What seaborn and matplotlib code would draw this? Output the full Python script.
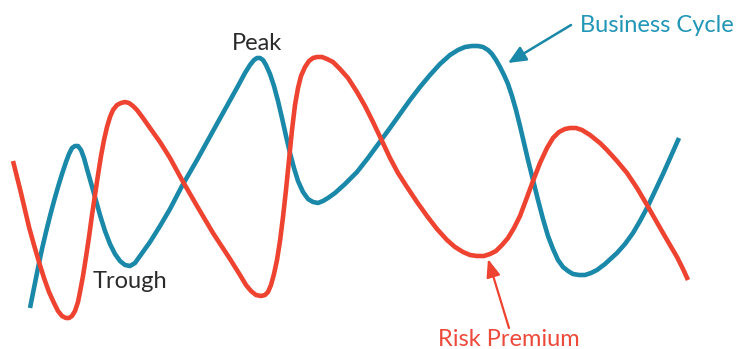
import matplotlib
matplotlib.use("Agg")
import matplotlib.pyplot as plt
import seaborn as sns
import pandas as pd

# Positions along the time axis and curve heights (screen-style, larger = lower)
cycle_x = [30, 34, 38, 42, 46, 50, 54, 58, 62, 66, 69, 72, 75, 78, 81, 84, 87, 91, 95, 100, 105, 110,
           115, 120, 125, 130, 135, 140, 150, 160, 170, 182, 197, 213, 228, 238, 245, 250, 254, 257,
           260, 263, 266, 270, 274, 278, 282, 286, 290, 294, 298, 303, 308, 313, 318, 323, 328, 335,
           345, 357, 368, 379, 390, 400, 410, 420, 430, 440, 450, 458, 465, 472, 478, 483, 488, 492,
           496, 500, 504, 508, 512, 516, 520, 524, 528, 533, 538, 543, 548, 553, 558, 563, 568, 573,
           579, 585, 591, 597, 605, 617, 625, 633, 640, 647, 655, 663, 671, 679]
cycle_y = [308, 288, 268, 249, 232, 216, 201, 187, 174, 162, 154, 148, 146, 146, 150, 158, 169, 183, 197, 215, 231, 244,
           254, 261, 265, 266, 263, 256, 242, 226, 209, 186, 160, 131, 104, 86, 73, 65, 60, 58,
           58, 60, 65, 74, 86, 101, 118, 136, 153, 168, 181, 192, 199, 202, 203, 201, 198, 193,
           184, 172, 158, 143, 128, 114, 100, 87, 75, 64, 55, 50, 47, 46, 46, 47, 50, 54,
           60, 67, 75, 84, 96, 110, 126, 143, 160, 180, 200, 219, 236, 249, 260, 267, 271, 274,
           275, 275, 273, 270, 264, 253, 244, 233, 221, 208, 191, 174, 156, 138]

risk_x = [13, 17, 21, 25, 29, 34, 39, 44, 49, 54, 58, 62, 66, 69, 72, 75, 78, 80, 83, 86, 89, 92, 95, 98,
          101, 104, 107, 110, 113, 117, 121, 125, 129, 133, 137, 143, 150, 160, 170, 182, 197, 213, 230,
          240, 246, 251, 256, 261, 265, 268, 271, 274, 277, 280, 283, 286, 289, 292, 295, 298, 301, 305,
          309, 313, 317, 322, 327, 333, 340, 348, 357, 365, 373, 382, 390, 398, 407, 417, 427, 437, 447,
          455, 463, 470, 477, 484, 490, 496, 502, 508, 514, 520, 526, 533, 540, 547, 553, 559, 565, 570,
          576, 582, 590, 600, 607, 617, 627, 637, 647, 655, 663, 670, 677, 683, 688]
risk_y = [161, 177, 193, 210, 227, 245, 262, 278, 292, 303, 311, 316, 318, 318, 316, 311, 302, 292, 276, 257, 237, 215, 195, 175,
          156, 140, 127, 117, 110, 105, 103, 102, 103, 106, 110, 118, 128, 142, 158, 180, 206, 233, 259,
          275, 285, 291, 295, 296, 295, 292, 285, 274, 260, 241, 217, 190, 160, 130, 105, 88, 76, 67,
          61, 58, 57, 57, 59, 62, 69, 78, 92, 106, 122, 141, 158, 173, 187, 202, 216, 229, 240,
          247, 252, 255, 256, 256, 254, 251, 245, 238, 228, 216, 200, 181, 163, 148, 138, 132, 129, 128,
          128, 130, 135, 143, 150, 161, 173, 188, 205, 219, 233, 245, 257, 269, 280]

labels = ["Business Cycle", "Risk Premium", "Peak", "Trough"]

BLUE = "#1a88a8"
BLUE_TXT = "#2196b6"
RED = "#ee4330"
RED_TXT = "#ee4a3a"
DARK = "#2b2b2b"

sns.set_theme(style="white")
plt.rcParams["font.family"] = ["Lato", "DejaVu Sans"]

fig = plt.figure(figsize=(7.42, 3.49), dpi=100)
ax = fig.add_axes([0, 0, 1, 1])

df_c = pd.DataFrame({"x": cycle_x, "y": cycle_y})
df_r = pd.DataFrame({"x": risk_x, "y": risk_y})
sns.lineplot(data=df_c, x="x", y="y", ax=ax, sort=False, estimator=None, color=BLUE,
             linewidth=3.3, solid_capstyle="butt", solid_joinstyle="round")
sns.lineplot(data=df_r, x="x", y="y", ax=ax, sort=False, estimator=None, color=RED,
             linewidth=3.3, solid_capstyle="butt", solid_joinstyle="round")

ax.set_xlim(0, 742)
ax.set_ylim(349, 0)
ax.axis("off")

fs = 17
ax.text(580, 32, labels[0], color=BLUE_TXT, fontsize=fs, ha="left", va="baseline")
ax.text(438, 346, labels[1], color=RED_TXT, fontsize=fs, ha="left", va="baseline")
ax.text(232, 50, labels[2], color=DARK, fontsize=fs, ha="left", va="baseline")
ax.text(93, 288, labels[3], color=DARK, fontsize=fs, ha="left", va="baseline")

ax.annotate("", xy=(508, 63), xytext=(571, 25),
            arrowprops=dict(arrowstyle="-|>,head_length=0.9,head_width=0.4", color=BLUE, lw=1.8,
                            shrinkA=0, shrinkB=0))
ax.annotate("", xy=(488, 259), xytext=(509, 328),
            arrowprops=dict(arrowstyle="-|>,head_length=0.9,head_width=0.35", color=RED, lw=1.6,
                            shrinkA=0, shrinkB=0))

fig.savefig("out.png", dpi=100)
